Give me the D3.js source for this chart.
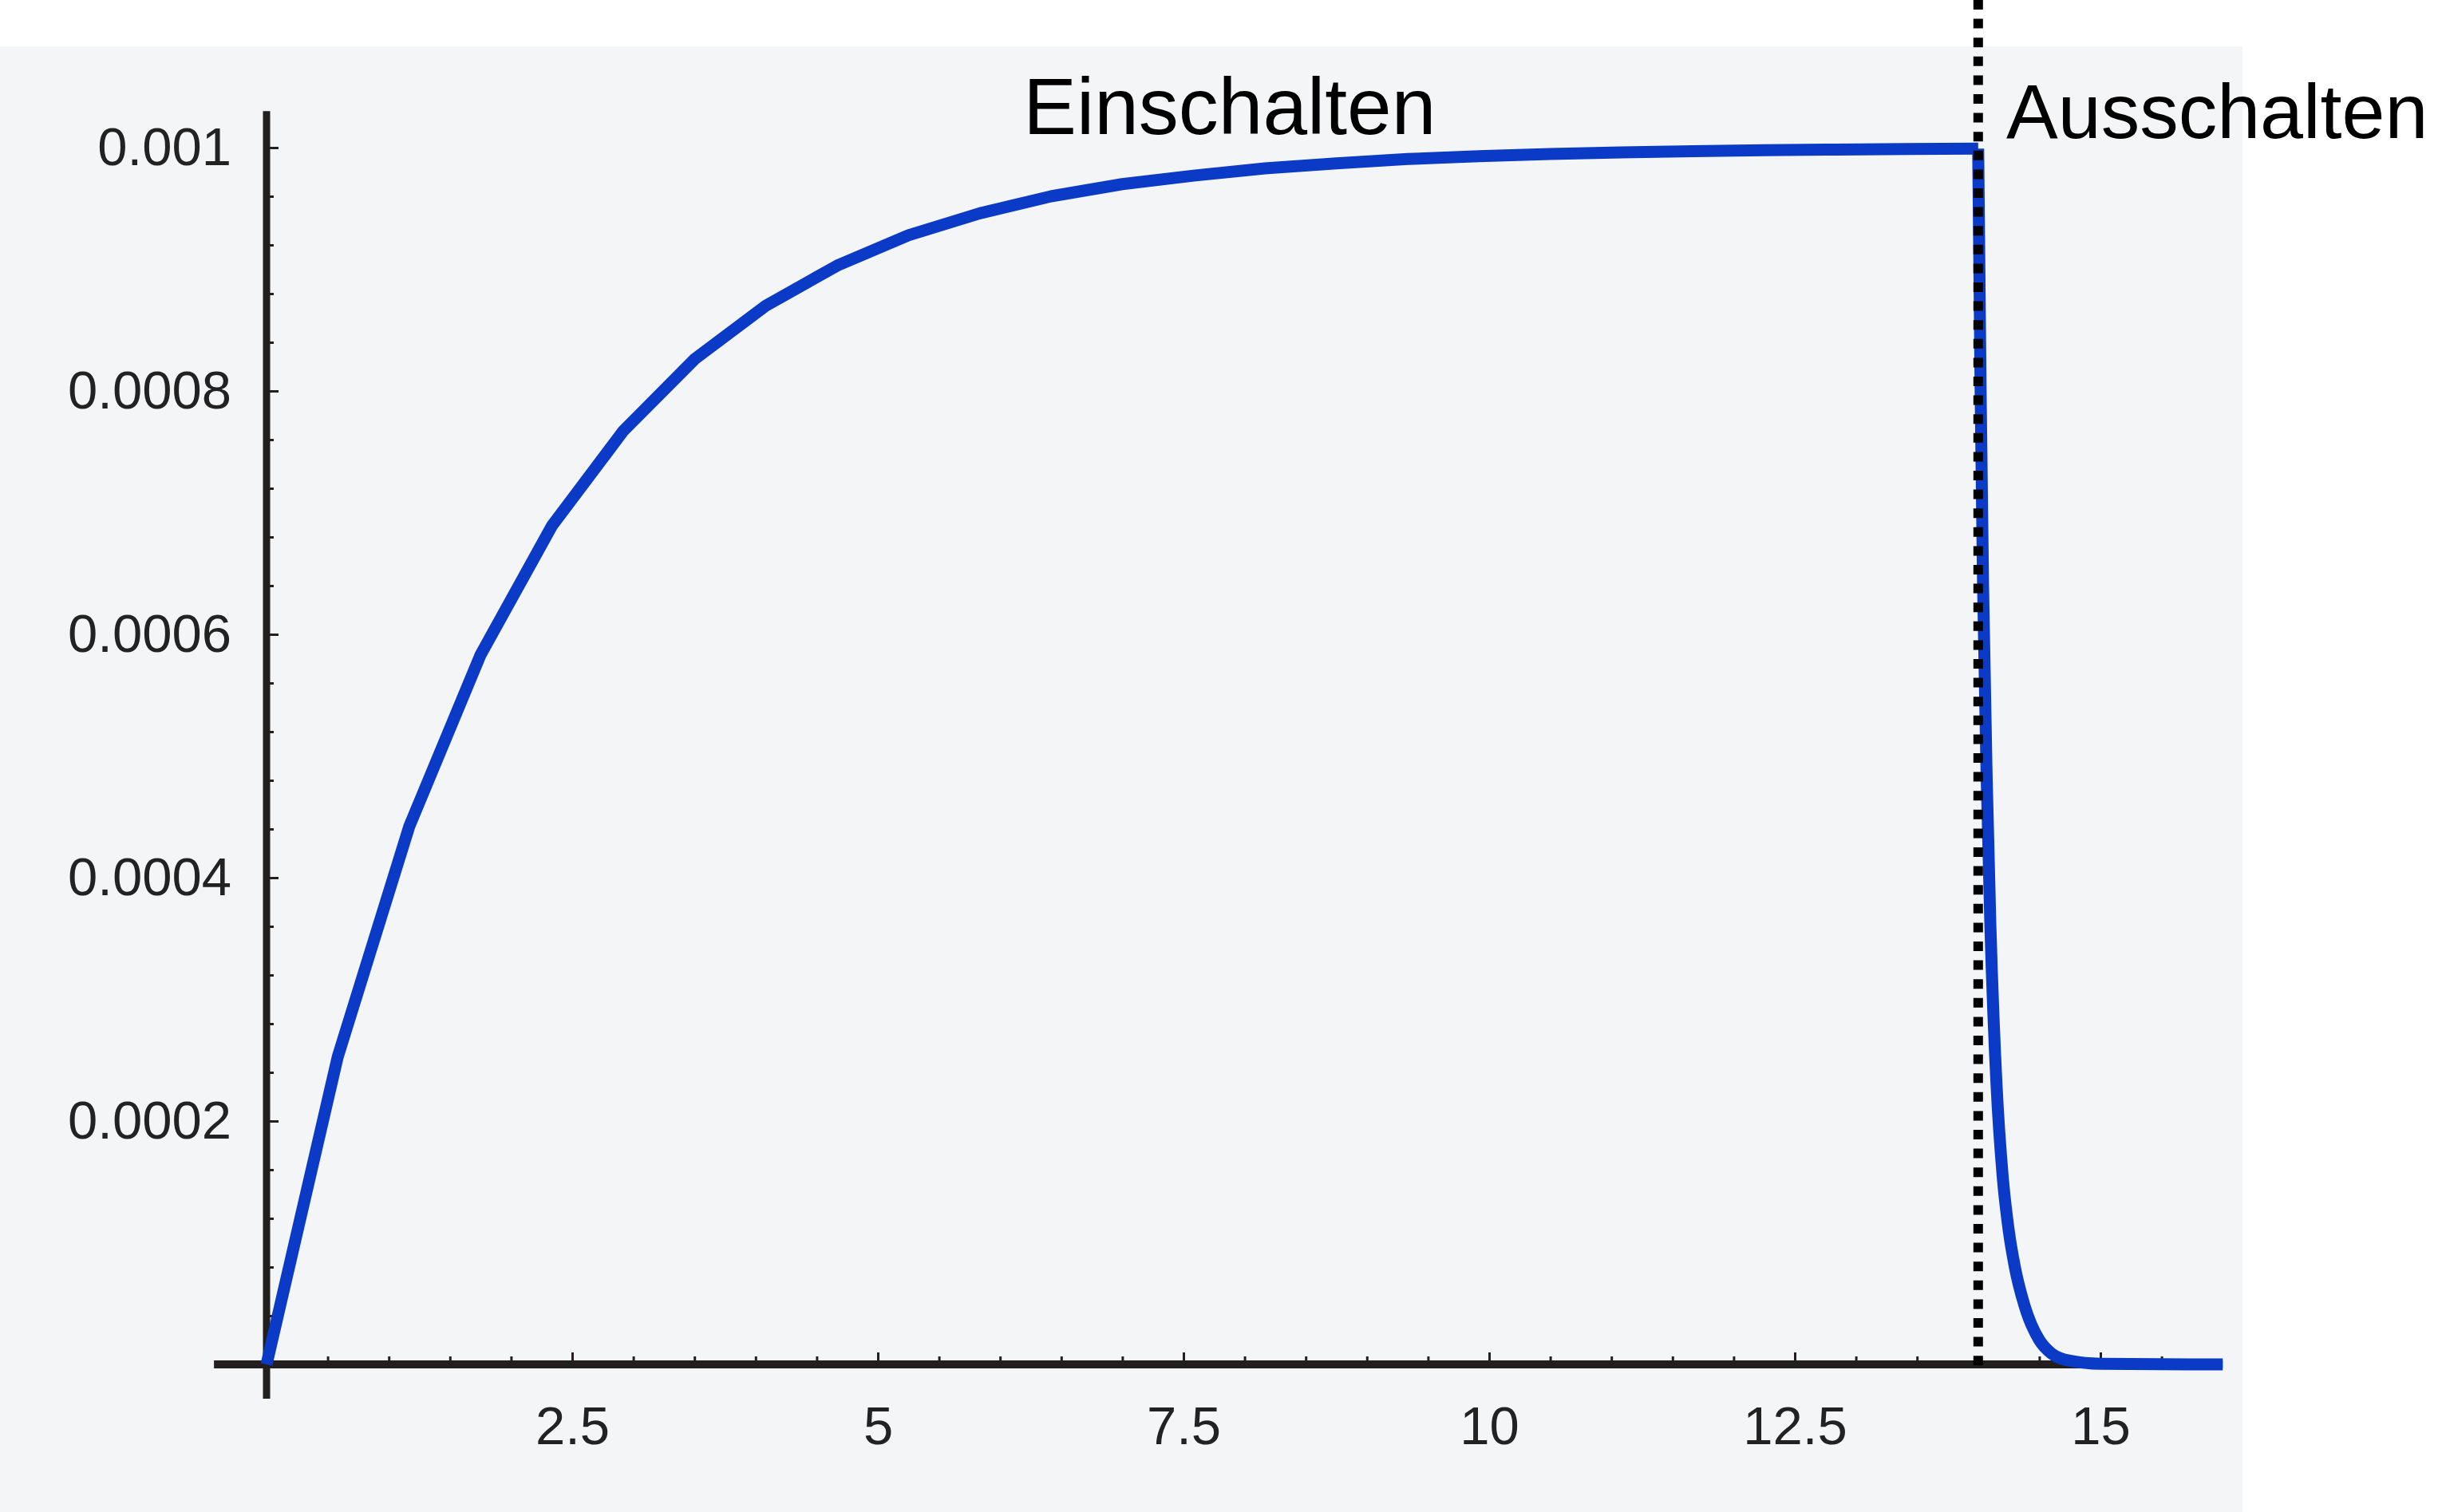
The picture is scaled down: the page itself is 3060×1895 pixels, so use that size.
<!DOCTYPE html>
<html>
<head>
<meta charset="utf-8">
<script src="https://cdn.jsdelivr.net/npm/d3@7"></script>
<style>
  html, body { margin: 0; padding: 0; background: #ffffff; }
  svg { display: block; }
</style>
</head>
<body>
<svg id="chart" width="3060" height="1895"></svg>
<script>
// ---- data ----
// switching on: current rises (sampled points of the plot)
const tOn = [0, 0.583, 1.167, 1.75, 2.333, 2.917, 3.5, 4.083, 4.667, 5.25, 5.833, 6.417, 7,
             7.583, 8.167, 8.75, 9.333, 9.917, 10.5, 11.083, 11.667, 12.25, 12.833, 13.417, 14];
const iOn = [0, 0.000253, 0.000442, 0.000583, 0.000689, 0.000767, 0.000826, 0.000870, 0.000903,
             0.000928, 0.000946, 0.000960, 0.000970, 0.000977, 0.000983, 0.000987, 0.0009906,
             0.0009930, 0.0009948, 0.0009961, 0.0009971, 0.0009978, 0.0009984, 0.0009988, 0.0009991];
// switching off: fast decay
const tOff = [14, 14.02, 14.04, 14.07, 14.1, 14.15, 14.2, 14.25, 14.3, 14.38, 14.5, 14.6, 14.75, 15, 16];
const iOff = [0.0009991, 0.00080, 0.00064, 0.00048, 0.00036, 0.00023, 0.000155, 0.00011,
              0.00008, 0.000048, 0.00002, 0.000009, 0.000003, 0.0000005, 0];

const switchTime = 14;

const xMajorTicks = [2.5, 5, 7.5, 10, 12.5, 15];
const xTickLabels = ["2.5", "5", "7.5", "10", "12.5", "15"];
const yMajorTicks = [0.0002, 0.0004, 0.0006, 0.0008, 0.001];
const yTickLabels = ["0.0002", "0.0004", "0.0006", "0.0008", "0.001"];

const xAxisExtent = [-0.43, 16];
const yAxisExtent = [-0.0000282, 0.00103];

const labelTexts = ["Einschalten", "Ausschalten"];
const labelAnchors = [[6.19, 0.001011], [14.23, 0.001008]];
const labelSizes = [100, 97];

// ---- drawing ----
const svg = d3.select("#chart");
const W = 3060, H = 1895;

svg.append("rect").attr("x", 0).attr("y", 0).attr("width", W).attr("height", H).attr("fill", "#ffffff");
svg.append("rect").attr("x", 0).attr("y", 58).attr("width", 2810).attr("height", H - 58).attr("fill", "#f3f5f7");

const x = d3.scaleLinear().domain([0, 15]).range([334, 2632]);
const y = d3.scaleLinear().domain([0, 0.001]).range([1710, 185]);

const axisColor = "#231f1e";
const fontFam = "'Liberation Sans', Arial, Helvetica, sans-serif";

// axis lines (extended past origin like the original)
svg.append("line")
  .attr("x1", x(xAxisExtent[0])).attr("x2", x(xAxisExtent[1]))
  .attr("y1", y(0)).attr("y2", y(0))
  .attr("stroke", axisColor).attr("stroke-width", 10);
svg.append("line")
  .attr("x1", x(0)).attr("x2", x(0))
  .attr("y1", y(yAxisExtent[0])).attr("y2", y(yAxisExtent[1]))
  .attr("stroke", axisColor).attr("stroke-width", 9);

// minor ticks
const xMinor = d3.range(0.5, 16, 0.5).filter(v => !xMajorTicks.some(m => Math.abs(m - v) < 1e-9));
const yMinor = d3.range(0.00004, 0.00102, 0.00004).filter(v => !yMajorTicks.some(m => Math.abs(m - v) < 1e-9));

const gxMinor = svg.append("g").attr("transform", `translate(0,${y(0)})`)
  .call(d3.axisBottom(x).tickValues(xMinor).tickSize(-10).tickFormat(""));
const gyMinor = svg.append("g").attr("transform", `translate(${x(0)},0)`)
  .call(d3.axisLeft(y).tickValues(yMinor).tickSize(-9).tickFormat(""));

// major ticks with labels
const gx = svg.append("g").attr("transform", `translate(0,${y(0)})`)
  .call(d3.axisBottom(x).tickValues(xMajorTicks).tickSize(-15).tickPadding(52)
        .tickFormat((d, i) => xTickLabels[i]));
const gy = svg.append("g").attr("transform", `translate(${x(0)},0)`)
  .call(d3.axisLeft(y).tickValues(yMajorTicks).tickSize(-15).tickPadding(44)
        .tickFormat((d, i) => yTickLabels[i]));

[gxMinor, gyMinor, gx, gy].forEach(g => {
  g.select(".domain").remove();
  g.selectAll(".tick line").attr("stroke", axisColor).attr("stroke-width", 3);
  g.selectAll(".tick text")
    .attr("fill", "#222222")
    .style("font-family", fontFam)
    .style("font-size", "67px");
});

// curve
const line = d3.line().x(d => x(d[0])).y(d => y(d[1]));
const onPts = tOn.map((t, i) => [t, iOn[i]]);
const offPts = tOff.map((t, i) => [t, iOff[i]]);

svg.append("path")
  .attr("d", line(onPts))
  .attr("fill", "none").attr("stroke", "#0a3ac6").attr("stroke-width", 15)
  .attr("stroke-linejoin", "round").attr("stroke-linecap", "butt");
svg.append("path")
  .attr("d", line.curve(d3.curveMonotoneX)(offPts))
  .attr("fill", "none").attr("stroke", "#0a3ac6").attr("stroke-width", 15)
  .attr("stroke-linejoin", "round").attr("stroke-linecap", "butt");

// dotted switching line
svg.append("line")
  .attr("x1", x(switchTime)).attr("x2", x(switchTime))
  .attr("y1", 0).attr("y2", y(0) + 2)
  .attr("stroke", "#000000").attr("stroke-width", 12)
  .attr("stroke-dasharray", "12,11.6");

// annotations
labelTexts.forEach((txt, i) => {
  svg.append("text")
    .attr("x", x(labelAnchors[i][0]))
    .attr("y", y(labelAnchors[i][1]))
    .attr("fill", "#000000")
    .style("font-family", fontFam)
    .style("font-size", labelSizes[i] + "px")
    .text(txt);
});
</script>
</body>
</html>
